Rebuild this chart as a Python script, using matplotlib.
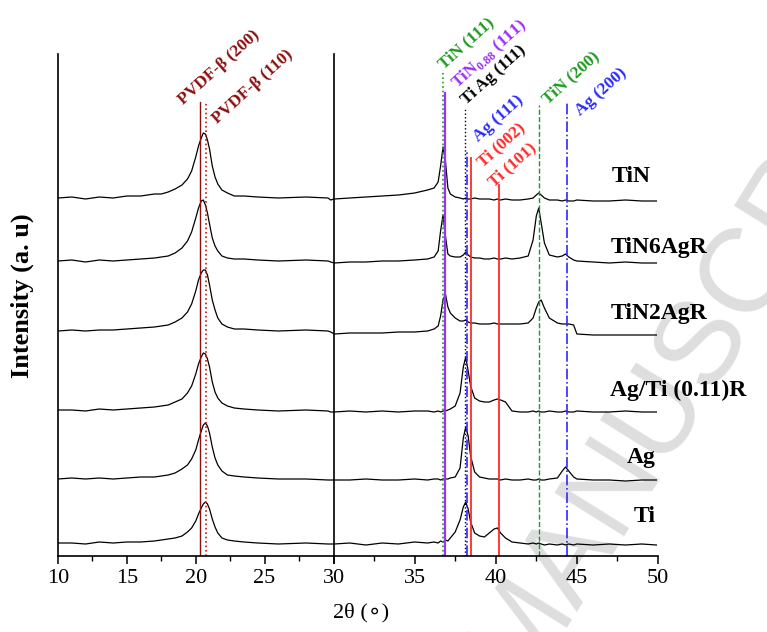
import matplotlib
matplotlib.use('Agg')
import matplotlib.pyplot as plt

plt.rcParams['font.family'] = ['Liberation Serif', 'DejaVu Sans']
plt.rcParams['mathtext.fontset'] = 'custom'
plt.rcParams['mathtext.rm'] = 'Liberation Serif:bold'
plt.rcParams['mathtext.bf'] = 'Liberation Serif:bold'

# 2theta grid, left panel (10-30) and right panel (30-50)
two_theta_left = [10, 11, 12, 13, 14, 15, 16, 17, 17.5, 18, 18.5, 19, 19.4, 19.7, 20.0, 20.2,
                  20.4, 20.55, 20.7, 20.85, 21.0, 21.2, 21.4, 21.6, 21.9, 22.3, 22.8, 23.5,
                  24.5, 26, 28, 29.6, 29.8]
two_theta_right = [30.05, 31, 32, 33, 34, 35, 35.8, 36.2, 36.45, 36.6, 36.75, 36.9, 37.05, 37.2,
                   37.5, 37.8, 38.0, 38.15, 38.3, 38.45, 38.7, 39.0, 39.3, 39.6, 39.9, 40.1,
                   40.3, 40.6, 41.0, 41.5, 42.0, 42.3, 42.5, 42.65, 42.8, 43.0, 43.3, 43.8,
                   44.1, 44.3, 44.5, 44.8, 45.0, 46, 47, 48, 49, 49.9]

# intensities (a.u., already stacked)
tin_left = [358, 359, 357, 359, 358, 360, 360, 362, 362, 364, 367, 371, 377, 385, 399, 410, 418,
            423, 422, 416, 407, 390, 379, 372, 366, 363, 360, 360, 359, 358, 359, 358, 356]
tin_right = [357, 358, 359, 360, 361, 363, 366, 368, 374, 390, 409, 395, 368, 362, 359, 358, 357,
             358, 357, 357, 358, 357, 357, 357, 356, 357, 356, 357, 356, 356, 357, 358, 361, 363,
             361, 358, 356, 356, 355, 356, 355, 355, 356, 355, 355, 356, 355, 355]
tin6_left = [295, 296, 294, 296, 295, 296, 297, 298, 299, 300, 303, 308, 315, 324, 338, 348, 355,
             356, 351, 343, 332, 318, 310, 305, 300, 298, 297, 297, 296, 295, 296, 295, 294]
tin6_right = [293, 294, 294, 295, 295, 296, 297, 299, 305, 325, 341, 320, 302, 300, 299, 299, 301,
              304, 301, 299, 298, 298, 297, 297, 298, 297, 297, 298, 297, 298, 300, 316, 340, 348,
              333, 313, 301, 299, 300, 302, 299, 296, 295, 294, 293, 294, 293, 293]
tin2_left = [225, 226, 225, 226, 226, 227, 228, 229, 230, 231, 234, 238, 244, 252, 265, 276, 283,
             286, 286, 281, 271, 256, 246, 238, 232, 229, 227, 227, 226, 225, 226, 225, 224]
tin2_right = [222, 223, 223, 223, 224, 224, 225, 227, 230, 240, 256, 262, 249, 243, 238, 235, 235,
              236, 234, 233, 233, 232, 232, 232, 233, 232, 232, 232, 232, 232, 233, 238, 248, 254,
              256, 248, 238, 233, 232, 232, 232, 231, 222, 221, 221, 221, 221, 221]
agti_left = [146, 146, 145, 147, 146, 147, 148, 149, 150, 151, 154, 157, 163, 170, 182, 192, 199,
             203, 202, 197, 189, 174, 164, 158, 153, 150, 148, 147, 146, 145, 146, 145, 144]
agti_right = [144, 145, 144, 145, 144, 145, 145, 144, 145, 144, 145, 145, 146, 147, 150, 163, 189,
              199, 185, 170, 158, 155, 154, 154, 156, 157, 156, 154, 145, 144, 144, 145, 144, 145,
              144, 144, 145, 144, 144, 145, 144, 144, 145, 144, 144, 145, 144, 144]
ag_left = [77, 78, 77, 78, 77, 78, 79, 79, 80, 81, 83, 87, 91, 97, 106, 116, 125, 131, 133, 130,
           123, 109, 98, 91, 85, 81, 80, 79, 78, 77, 77, 76, 76]
ag_right = [76, 76, 77, 76, 76, 77, 76, 77, 77, 76, 77, 77, 77, 78, 79, 88, 118, 129, 120, 100, 84,
            79, 78, 77, 77, 77, 76, 77, 76, 76, 77, 76, 76, 77, 76, 76, 77, 78, 85, 89, 85, 79,
            77, 76, 76, 75, 76, 76]
ti_left = [13, 13, 12, 14, 13, 14, 14, 15, 16, 17, 18, 20, 24, 28, 35, 42, 48, 52, 54, 52, 47, 37,
           29, 23, 18, 16, 15, 14, 13, 12, 13, 12, 12]
ti_right = [12, 13, 11, 13, 12, 14, 13, 14, 13, 15, 14, 16, 15, 18, 24, 36, 49, 54, 47, 34, 23, 20,
            19, 23, 27, 28, 23, 18, 14, 13, 12, 13, 12, 13, 12, 11, 12, 11, 12, 11, 12, 11, 12, 11,
            12, 11, 12, 11]

samples = ['Ti', 'Ag', 'Ag/Ti (0.11)R', 'TiN2AgR', 'TiN6AgR', 'TiN']

# reference peak positions
ref_labels = ['PVDF-β (200)', 'PVDF-β (110)', 'TiN (111)', 'TiN$_{0.88}$ (111)', 'Ti Ag (111)',
              'Ag (111)', 'Ti (002)', 'Ti (101)', 'TiN (200)', 'Ag (200)']
ref_pos = [20.33, 20.72, 36.73, 36.87, 38.10, 38.21, 38.45, 40.18, 42.64, 44.37]

# styles / layout
ref_colors = ['#8b1010', '#c81414', '#1f9a1f', '#9b30ff', '#000000', '#2a2aff',
              '#ff2a2a', '#ff2a2a', '#1f9a1f', '#2a2aff']
ref_text_colors = ['#8b1010', '#8b1010', '#1f9a1f', '#9b30ff', '#000000', '#2a2aff',
                   '#ff2a2a', '#ff2a2a', '#1f9a1f', '#2a2aff']
ref_ls = ['-', ':', ':', '-', ':', '-.', '-', '-', '--', '-.']
ref_lw = [1.0, 1.2, 1.2, 1.6, 1.0, 1.2, 1.3, 1.3, 1.0, 1.2]
ref_top = [454, 454, 486, 463, 448, 406, 398, 371, 451, 453]
ref_off = [(-17, -3), (12, -22), (1, 1), (12, 4), (1, 3), (12, 8), (12, -9), (-5, -2), (9, 1), (14, -13)]
label_off = [(-1, 28, 'right'), (-1, 23, 'right'), (-46, 22, 'left'),
             (-46, 22, 'left'), (-46, 16, 'left'), (-45, 24, 'left')]

W, H = 767, 632
fig = plt.figure(figsize=(W / 100, H / 100), dpi=100)
axL = fig.add_axes([58 / W, 76 / H, 275.5 / W, 502 / H])
axR = fig.add_axes([333.5 / W, 76 / H, 324.5 / W, 502 / H])

# journal watermark
fig.text(520 / W, -55 / H, 'MANUSCRIPT', rotation=58, rotation_mode='anchor', ha='left',
         va='baseline', fontsize=86, color='#dedede', family='Liberation Sans', zorder=-5)

curves = [(ti_left, ti_right), (ag_left, ag_right), (agti_left, agti_right),
          (tin2_left, tin2_right), (tin6_left, tin6_right), (tin_left, tin_right)]
xs = two_theta_left + two_theta_right
for ax in (axL, axR):
    ax.set_facecolor('none')
    for yl, yr in curves:
        ax.plot(xs, yl + yr, color='k', lw=0.9)
    ax.set_ylim(0, 502)
    ax.set_yticks([])
    for s in ('top', 'right'):
        ax.spines[s].set_visible(False)
    for s in ('left', 'bottom'):
        ax.spines[s].set_linewidth(1.2)
    ax.tick_params(axis='x', which='major', direction='out', length=5.5, width=1.1,
                   labelsize=16, pad=4)
    ax.tick_params(axis='x', which='minor', direction='out', length=3.5, width=1.0)

axL.set_xlim(10, 30)
axL.set_xticks([10, 15, 20, 25, 30])
axL.set_xticks([12.5, 17.5, 22.5, 27.5], minor=True)
axR.set_xlim(30, 50)
axR.set_xticks([30, 35, 40, 45, 50])
axR.set_xticklabels(['', '35', '40', '45', '50'])
axR.set_xticks([32.5, 37.5, 42.5, 47.5], minor=True)

# reference lines with rotated labels
for lab, x, c, tc, ls, lw, top, off in zip(ref_labels, ref_pos, ref_colors, ref_text_colors,
                                            ref_ls, ref_lw, ref_top, ref_off):
    ax = axL if x < 30 else axR
    ax.plot([x, x], [0, top], color=c, ls=ls, lw=lw)
    ax.annotate(lab, (x, top), xytext=off, textcoords='offset pixels', rotation=42,
                rotation_mode='anchor', ha='left', va='baseline', color=tc,
                fontsize=12.5, fontweight='bold', annotation_clip=False)

# sample names
for name, (yl, yr), (dx, dy, ha) in zip(samples, curves, label_off):
    axR.annotate(name, (two_theta_right[-1], yr[-1]), xytext=(dx, dy), textcoords='offset pixels',
                 ha=ha, va='center', fontsize=17, fontweight='bold', annotation_clip=False)

fig.text(22 / W, 1 - 296 / H, 'Intensity (a. u)', rotation=90, ha='center', va='center',
         fontsize=19, fontweight='bold')
fig.text(361 / W, 1 - 613 / H, '2θ (\u2218)', ha='center', va='center', fontsize=16)

fig.savefig('out.png', dpi=100)
